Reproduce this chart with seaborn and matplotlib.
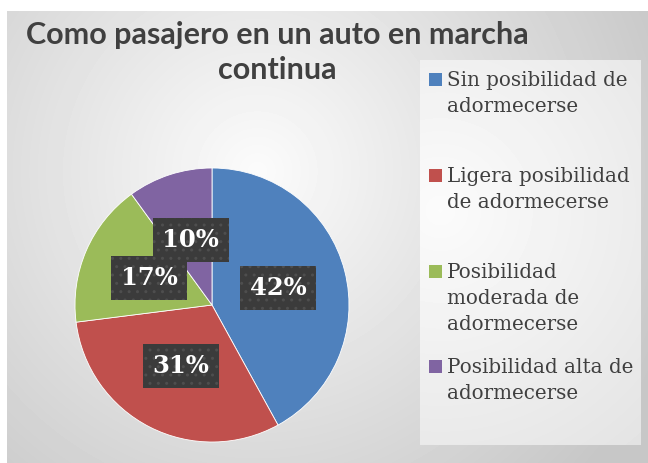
import numpy as np
import matplotlib
matplotlib.use('Agg')
import matplotlib.pyplot as plt
import seaborn as sns
from matplotlib.patches import Rectangle

# data
title_lines = ['Como pasajero en un auto en marcha', 'continua']
categories = ['Sin posibilidad de\nadormecerse',
              'Ligera posibilidad\nde adormecerse',
              'Posibilidad\nmoderada de\nadormecerse',
              'Posibilidad alta de\nadormecerse']
percentages = [42, 31, 17, 10]
colors = ['#4F81BD', '#C0504D', '#9BBB59', '#8064A2']

sns.set_style('white')
plt.rcParams['font.family'] = ['DejaVu Sans']

W, H = 648, 463
fig = plt.figure(figsize=(W / 100, H / 100), dpi=100)
fig.patch.set_facecolor('white')

def px(x0, y0, w, h):
    # pixel box (top-left origin) -> figure fraction rect
    return [x0 / W, 1 - (y0 + h) / H, w / W, h / H]

# chart background: radial grey gradient
bg = fig.add_axes(px(7, 11, W - 7, H - 11), zorder=0)
yy, xx = np.mgrid[0:H - 11, 0:W - 7]
d = np.hypot(xx - 250, yy - 160) / 430.0
shade = np.clip(0.985 - 0.2 * d, 0.78, 1)
bg.imshow(shade, cmap='gray', vmin=0, vmax=1, aspect='auto', interpolation='bilinear')
bg.set_axis_off()

# legend panel: lighter gradient
lg = fig.add_axes(px(420, 60, 221, 385), zorder=1)
ly, lx = np.mgrid[0:385, 0:221]
ld = np.hypot(lx - 20, ly - 150) / 330.0
lshade = np.clip(0.985 - 0.1 * ld, 0.88, 1)
lg.imshow(lshade, cmap='gray', vmin=0, vmax=1, aspect='auto', interpolation='bilinear')
lg.set_axis_off()

# pie
ax = fig.add_axes(px(75, 168, 274, 274), zorder=2)
wedges, texts, autotexts = ax.pie(
    percentages, colors=colors, startangle=90, counterclock=False,
    autopct='%d%%', pctdistance=0.5, radius=1,
    wedgeprops=dict(edgecolor='white', linewidth=0.6),
    textprops=dict(color='white', fontsize=17.5, fontweight='bold',
                   family='DejaVu Serif'))
for t in autotexts:
    t.set_bbox(dict(boxstyle='square,pad=0.4', facecolor='#3b3b3b',
                    edgecolor='#4e4e4e', linewidth=0, hatch='..'))
ax.set_xlim(-1, 1)
ax.set_ylim(-1, 1)
ax.set_aspect('equal')
ax.set_axis_off()

# title, one text per line so the block does not spill over the legend
for line, base in zip(title_lines, [44, 79]):
    fig.text(277 / W, 1 - base / H, line, ha='center', va='baseline', fontsize=22,
             fontweight='bold', color='#404040', family=['Lato', 'DejaVu Sans'])

# legend entries
tops = [71, 167, 263, 358]
for lab, col, top in zip(categories, colors, tops):
    fig.patches.append(Rectangle((429 / W, 1 - (top + 15) / H), 13 / W, 13 / H,
                                 transform=fig.transFigure, facecolor=col,
                                 edgecolor='none', zorder=3))
    fig.text(447 / W, 1 - top / H, lab, ha='left', va='top', fontsize=14.3,
             color='#404040', linespacing=1.45, family='DejaVu Serif', zorder=3)

fig.savefig('out.png', dpi=100)
